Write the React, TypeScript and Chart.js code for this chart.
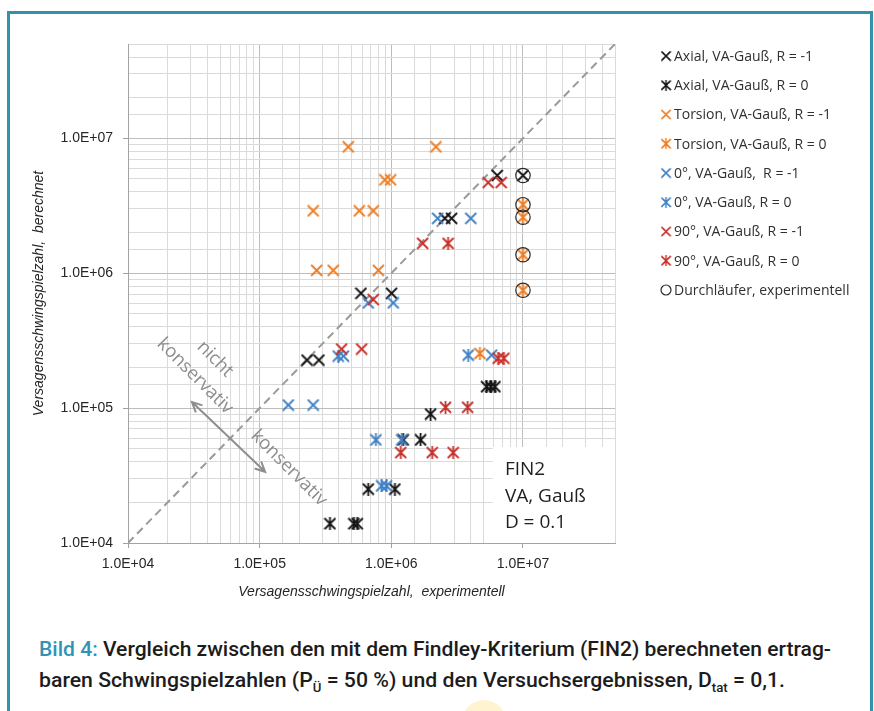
import React, { useEffect, useRef } from 'react';
import { Chart, registerables } from 'chart.js';

Chart.register(...registerables);

// ---------- axis ----------
const AXIS_MIN = 1e4;
const AXIS_MAX = 5e7;
const tickValues = [1e4, 1e5, 1e6, 1e7];
const tickLabels = ['1.0E+04', '1.0E+05', '1.0E+06', '1.0E+07'];

const xTitle = 'Versagensschwingspielzahl,  experimentell';
const yTitle = 'Versagensschwingspielzahl,  berechnet';

// ---------- series ----------
const seriesNames = [
  'Axial, VA-Gauß, R = -1',
  'Axial, VA-Gauß, R = 0',
  'Torsion, VA-Gauß, R = -1',
  'Torsion, VA-Gauß, R = 0',
  '0°, VA-Gauß,  R = -1',
  '0°, VA-Gauß, R = 0',
  '90°, VA-Gauß, R = -1',
  '90°, VA-Gauß, R = 0',
  'Durchläufer, experimentell',
];

const axialRm1X = [2.29e5, 2.82e5, 5.88e5, 1.005e6, 2.55e6, 2.87e6, 6.37e6, 1.0e7];
const axialRm1Y = [2.27e5, 2.27e5, 7.1e5, 7.1e5, 2.55e6, 2.55e6, 5.3e6, 5.3e6];

const axialR0X = [3.42e5, 5.2e5, 5.51e5, 6.68e5, 1.065e6, 1.23e6, 1.669e6, 1.988e6, 5.29e6, 5.7e6, 6.12e6];
const axialR0Y = [1.39e4, 1.39e4, 1.39e4, 2.51e4, 2.51e4, 5.81e4, 5.81e4, 9.04e4, 1.44e5, 1.44e5, 1.44e5];

const torsionRm1X = [4.71e5, 2.18e6, 8.94e5, 9.88e5, 2.55e5, 5.71e5, 7.29e5, 2.71e5, 3.62e5, 7.98e5];
const torsionRm1Y = [8.64e6, 8.64e6, 4.92e6, 4.92e6, 2.9e6, 2.9e6, 2.9e6, 1.05e6, 1.05e6, 1.05e6];

const torsionR0X = [4.71e6, 1.0e7, 1.0e7, 1.0e7, 1.0e7];
const torsionR0Y = [2.54e5, 3.22e6, 2.6e6, 1.37e6, 7.47e5];

const deg0Rm1X = [1.65e5, 2.55e5, 4.33e5, 6.68e5, 1.034e6, 2.25e6, 4.02e6, 5.78e6];
const deg0Rm1Y = [1.054e5, 1.054e5, 2.43e5, 6.02e5, 6.02e5, 2.55e6, 2.55e6, 2.47e5];

const deg0R0X = [3.95e5, 7.64e5, 1.2e6, 8.44e5, 9.21e5, 3.84e6];
const deg0R0Y = [2.43e5, 5.81e4, 5.81e4, 2.65e4, 2.65e4, 2.47e5];

const deg90Rm1X = [4.19e5, 5.95e5, 7.29e5, 1.73e6, 5.44e6, 6.83e6];
const deg90Rm1Y = [2.74e5, 2.74e5, 6.38e5, 1.665e6, 4.7e6, 4.7e6];

const deg90R0X = [2.7e6, 1.18e6, 2.045e6, 2.95e6, 2.58e6, 3.8e6, 6.48e6, 7.16e6];
const deg90R0Y = [1.665e6, 4.68e4, 4.68e4, 4.68e4, 1.014e5, 1.014e5, 2.34e5, 2.34e5];

const runoutX = [1.0e7, 1.0e7, 1.0e7, 1.0e7, 1.0e7];
const runoutY = [5.3e6, 3.22e6, 2.6e6, 1.37e6, 7.47e5];

// diagonal N_calc = N_exp
const diagX = [1e4, 5e7];
const diagY = [1e4, 5e7];

// ---------- annotations (data coordinates) ----------
const boxLines = ['FIN2', 'VA, Gauß', 'D = 0.1'];
const boxLeftX = 5.9e6;
const boxTopY = 5.15e4;
const boxTextX = 7.29e6;

const nichtPos = { x: 4.58e4, y: 2.31e5 };
const konsUpperPos = { x: 3.23e4, y: 1.73e5 };
const konsLowerPos = { x: 1.67e5, y: 3.6e4 };
const arrowFrom = { x: 3.06e4, y: 1.11e5 };
const arrowTo = { x: 1.1e5, y: 3.37e4 };

const BLACK = '#141414';
const ORANGE = '#EE7D22';
const BLUE = '#3F80C4';
const RED = '#C9302A';

function zip(xs: number[], ys: number[]) {
  return xs.map((x, i) => ({ x, y: ys[i] }));
}

function makeMarker(color: string, star: boolean) {
  const s = 13;
  const c = document.createElement('canvas');
  c.width = s;
  c.height = s;
  const g = c.getContext('2d')!;
  g.strokeStyle = color;
  g.lineWidth = 1.8;
  g.beginPath();
  g.moveTo(1, 1);
  g.lineTo(s - 1, s - 1);
  g.moveTo(s - 1, 1);
  g.lineTo(1, s - 1);
  if (star) {
    g.moveTo(s / 2, 0);
    g.lineTo(s / 2, s);
  }
  g.stroke();
  return c;
}

function isPow10(v: number) {
  const l = Math.log10(v);
  return Math.abs(l - Math.round(l)) < 1e-9;
}

const overlayPlugin = {
  id: 'overlay',
  afterDatasetsDraw(chart: any) {
    const { ctx, chartArea } = chart;
    const xs = chart.scales.x;
    const ys = chart.scales.y;
    ctx.save();
    // text box
    const bx = xs.getPixelForValue(boxLeftX);
    const by = ys.getPixelForValue(boxTopY);
    ctx.fillStyle = '#ffffff';
    ctx.fillRect(bx, by, chartArea.right - bx, chartArea.bottom - by);
    ctx.fillStyle = '#1f1f1f';
    ctx.font = '19px "Open Sans"';
    ctx.textBaseline = 'middle';
    ctx.textAlign = 'left';
    const tx = xs.getPixelForValue(boxTextX);
    boxLines.forEach((t, i) => {
      ctx.fillText(t, tx, by + 23 + i * 26.5);
    });

    // rotated texts
    ctx.fillStyle = '#8e8e8e';
    ctx.font = '18.5px "Open Sans"';
    ctx.textAlign = 'center';
    const ang = Math.PI / 4;
    const drawRot = (p: { x: number; y: number }, t: string) => {
      ctx.save();
      ctx.translate(xs.getPixelForValue(p.x), ys.getPixelForValue(p.y));
      ctx.rotate(ang);
      ctx.fillText(t, 0, 0);
      ctx.restore();
    };
    drawRot(nichtPos, 'nicht');
    drawRot(konsUpperPos, 'konservativ');
    drawRot(konsLowerPos, 'konservativ');

    // double arrow
    const x1 = xs.getPixelForValue(arrowFrom.x);
    const y1 = ys.getPixelForValue(arrowFrom.y);
    const x2 = xs.getPixelForValue(arrowTo.x);
    const y2 = ys.getPixelForValue(arrowTo.y);
    ctx.strokeStyle = '#8e8e8e';
    ctx.lineWidth = 2;
    ctx.beginPath();
    ctx.moveTo(x1, y1);
    ctx.lineTo(x2, y2);
    const a = Math.atan2(y2 - y1, x2 - x1);
    const L = 11;
    const spread = 0.45;
    ctx.moveTo(x2 - L * Math.cos(a - spread), y2 - L * Math.sin(a - spread));
    ctx.lineTo(x2, y2);
    ctx.lineTo(x2 - L * Math.cos(a + spread), y2 - L * Math.sin(a + spread));
    ctx.moveTo(x1 + L * Math.cos(a - spread), y1 + L * Math.sin(a - spread));
    ctx.lineTo(x1, y1);
    ctx.lineTo(x1 + L * Math.cos(a + spread), y1 + L * Math.sin(a + spread));
    ctx.stroke();
    ctx.restore();
  },
  afterDraw(chart: any) {
    const { ctx } = chart;
    ctx.save();
    ctx.font = '14px "Open Sans"';
    ctx.textBaseline = 'middle';
    ctx.textAlign = 'left';
    const legendDs = chart.data.datasets.filter((d: any) => d.inLegend);
    legendDs.forEach((d: any, i: number) => {
      const cy = 56 + i * 29.25;
      const cx = 666;
      if (d.pointStyle === 'circle') {
        ctx.strokeStyle = d.borderColor;
        ctx.lineWidth = 1.2;
        ctx.beginPath();
        ctx.arc(cx, cy, 5, 0, Math.PI * 2);
        ctx.stroke();
      } else {
        const img = d.legendImg;
        ctx.drawImage(img, cx - 5.5, cy - 5.5, 11, 11);
      }
      ctx.fillStyle = '#303030';
      ctx.fillText(d.label, 674, cy + 1);
    });
    ctx.restore();
  },
};

export default function App() {
  const canvasRef = useRef<HTMLCanvasElement>(null);
  const line1Ref = useRef<HTMLDivElement>(null);
  const line2Ref = useRef<HTMLDivElement>(null);

  useEffect(() => {
    const fit: [React.RefObject<HTMLDivElement>, number][] = [
      [line1Ref, 792],
      [line2Ref, 746],
    ];
    fit.forEach(([r, w]) => {
      const el = r.current;
      if (!el) return;
      el.style.transform = 'none';
      const actual = el.getBoundingClientRect().width;
      el.style.transform = `scaleX(${w / actual})`;
    });
  }, []);

  useEffect(() => {
    const canvas = canvasRef.current!;
    const mk = (
      label: string,
      xs: number[],
      ys: number[],
      color: string,
      star: boolean,
      order: number
    ) => {
      const img = makeMarker(color, star);
      return {
        label,
        data: zip(xs, ys),
        showLine: false,
        pointStyle: img,
        legendImg: img,
        pointRadius: 6.5,
        borderColor: color,
        backgroundColor: color,
        inLegend: true,
        order,
      };
    };
    const datasets: any[] = [
      {
        label: 'diag',
        data: zip(diagX, diagY),
        showLine: true,
        borderColor: '#9a9a9a',
        borderWidth: 2,
        borderDash: [8, 5],
        pointRadius: 0,
        inLegend: false,
        order: 20,
      },
      mk(seriesNames[0], axialRm1X, axialRm1Y, BLACK, false, 9),
      mk(seriesNames[1], axialR0X, axialR0Y, BLACK, true, 8),
      mk(seriesNames[2], torsionRm1X, torsionRm1Y, ORANGE, false, 7),
      mk(seriesNames[3], torsionR0X, torsionR0Y, ORANGE, true, 6),
      mk(seriesNames[4], deg0Rm1X, deg0Rm1Y, BLUE, false, 5),
      mk(seriesNames[5], deg0R0X, deg0R0Y, BLUE, true, 4),
      mk(seriesNames[6], deg90Rm1X, deg90Rm1Y, RED, false, 3),
      mk(seriesNames[7], deg90R0X, deg90R0Y, RED, true, 2),
      {
        label: seriesNames[8],
        data: zip(runoutX, runoutY),
        showLine: false,
        pointStyle: 'circle',
        pointRadius: 7.2,
        borderWidth: 1.2,
        borderColor: '#2a2a2a',
        backgroundColor: 'rgba(0,0,0,0)',
        inLegend: true,
        order: 0,
      },
    ];

    const gridColor = (c: any) =>
      c.tick && isPow10(c.tick.value) ? '#bdbdbd' : '#dadada';
    const tickColor = (c: any) =>
      c.tick && isPow10(c.tick.value) && c.tick.value < AXIS_MAX ? '#a0a0a0' : 'rgba(0,0,0,0)';
    const labelFor = (v: any) => {
      const i = tickValues.findIndex((t) => Math.abs(t - Number(v)) / t < 1e-9);
      return i >= 0 ? tickLabels[i] : '';
    };

    const chart = new Chart(canvas, {
      type: 'scatter',
      data: { datasets },
      plugins: [overlayPlugin],
      options: {
        animation: false,
        responsive: false,
        events: [],
        layout: { padding: { left: 0, top: 44, right: 259, bottom: 0 } },
        plugins: {
          legend: { display: false },
          tooltip: { enabled: false },
        },
        scales: {
          x: {
            type: 'logarithmic',
            min: AXIS_MIN,
            max: AXIS_MAX,
            afterFit: (s: any) => {
              s.height = 77;
            },
            border: { color: '#a3a3a3', width: 1 },
            grid: { color: gridColor, tickColor, tickLength: 5, lineWidth: 1 },
            ticks: {
              autoSkip: false,
              maxRotation: 0,
              padding: 8,
              color: '#262626',
              font: { family: '"Liberation Sans", Arial', size: 14 },
              callback: labelFor,
            },
            title: {
              display: true,
              text: xTitle,
              color: '#262626',
              font: { family: '"Liberation Sans", Arial', size: 14, style: 'italic' },
              padding: { top: 0, bottom: 19 },
            },
          },
          y: {
            type: 'logarithmic',
            min: AXIS_MIN,
            max: AXIS_MAX,
            afterFit: (s: any) => {
              s.width = 128;
            },
            border: { color: '#a3a3a3', width: 1 },
            grid: { color: gridColor, tickColor, tickLength: 5, lineWidth: 1 },
            ticks: {
              autoSkip: false,
              padding: 10,
              color: '#262626',
              font: { family: '"Liberation Sans", Arial', size: 14 },
              callback: labelFor,
            },
            title: {
              display: true,
              text: yTitle,
              color: '#262626',
              font: { family: '"Liberation Sans", Arial', size: 14, style: 'italic' },
              padding: { top: 31, bottom: 0 },
            },
          },
        },
      } as any,
    });
    return () => chart.destroy();
  }, []);

  const captionFont: React.CSSProperties = {
    fontFamily: 'Roboto, "Liberation Sans", sans-serif',
    fontWeight: 500,
    fontSize: 21,
    color: '#1c1c1c',
    whiteSpace: 'nowrap',
    position: 'absolute',
    left: 39,
    lineHeight: '30px',
    transformOrigin: '0 50%',
    display: 'inline-block',
  };
  const sub: React.CSSProperties = { fontSize: 13, verticalAlign: -5 };

  return (
    <div
      style={{
        position: 'absolute',
        left: 0,
        top: 0,
        width: 874,
        height: 711,
        overflow: 'hidden',
        background: '#ffffff',
      }}
    >
      <div
        style={{
          position: 'absolute',
          left: 7,
          top: 11,
          width: 860,
          height: 740,
          border: '3px solid #3391ab',
          borderBottom: 'none',
        }}
      />
      <canvas
        ref={canvasRef}
        width={874}
        height={620}
        style={{ position: 'absolute', left: 0, top: 0 }}
      />
      <div ref={line1Ref} style={{ ...captionFont, top: 634 }}>
        <span style={{ color: '#2f93b5' }}>Bild 4:</span> Vergleich zwischen den mit dem
        Findley-Kriterium (FIN2) berechneten ertrag-
      </div>
      <div ref={line2Ref} style={{ ...captionFont, top: 665 }}>
        baren Schwingspielzahlen (P<span style={sub}>Ü</span> = 50 %) und den
        Versuchsergebnissen, D<span style={sub}>tat</span> = 0,1.
      </div>
      <div
        style={{
          position: 'absolute',
          left: 462,
          top: 700,
          width: 44,
          height: 44,
          borderRadius: '50%',
          background: '#fff4cf',
        }}
      />
    </div>
  );
}
